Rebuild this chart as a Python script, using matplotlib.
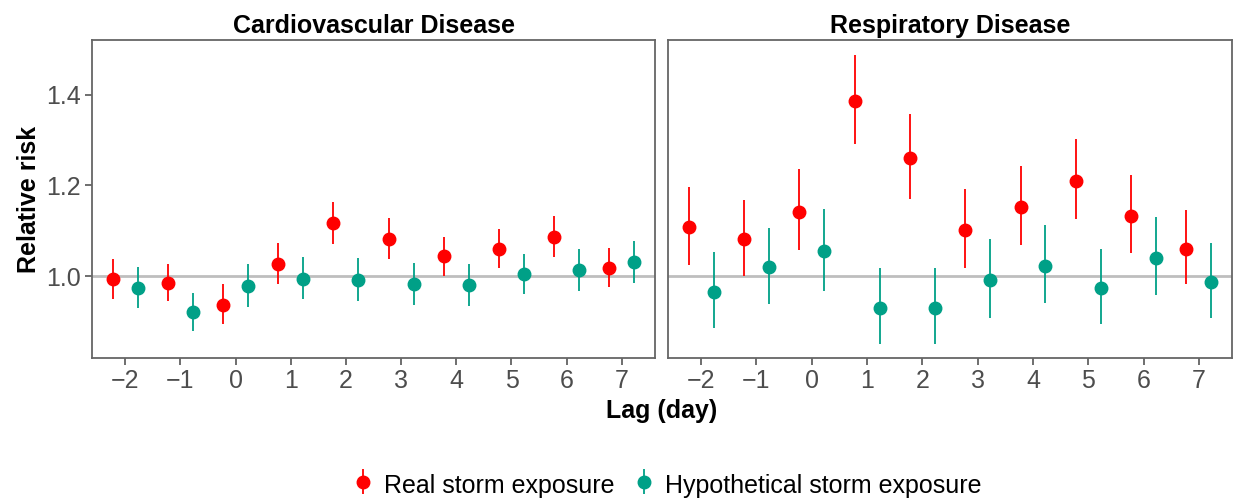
import numpy as np
import matplotlib
matplotlib.use("Agg")
import matplotlib.pyplot as plt

plt.rcParams['font.family'] = ['Liberation Sans', 'DejaVu Sans']

lags = [-2, -1, 0, 1, 2, 3, 4, 5, 6, 7]

# Cardiovascular disease
cvd_real = [0.993, 0.985, 0.937, 1.027, 1.117, 1.081, 1.044, 1.061, 1.087, 1.018]
cvd_real_lo = [0.950, 0.945, 0.894, 0.983, 1.070, 1.037, 1.001, 1.019, 1.043, 0.976]
cvd_real_hi = [1.037, 1.027, 0.982, 1.073, 1.164, 1.128, 1.087, 1.105, 1.133, 1.062]
cvd_hyp = [0.975, 0.921, 0.979, 0.995, 0.992, 0.982, 0.980, 1.004, 1.014, 1.032]
cvd_hyp_lo = [0.930, 0.879, 0.932, 0.949, 0.945, 0.937, 0.935, 0.961, 0.967, 0.985]
cvd_hyp_hi = [1.021, 0.963, 1.027, 1.043, 1.040, 1.029, 1.026, 1.050, 1.059, 1.078]

# Respiratory disease
resp_real = [1.108, 1.081, 1.142, 1.386, 1.260, 1.102, 1.152, 1.210, 1.133, 1.061]
resp_real_lo = [1.024, 1.001, 1.057, 1.291, 1.169, 1.018, 1.068, 1.126, 1.051, 0.982]
resp_real_hi = [1.197, 1.168, 1.236, 1.488, 1.357, 1.192, 1.242, 1.301, 1.222, 1.145]
resp_hyp = [0.966, 1.020, 1.055, 0.931, 0.931, 0.991, 1.023, 0.974, 1.040, 0.988]
resp_hyp_lo = [0.885, 0.939, 0.968, 0.850, 0.850, 0.908, 0.941, 0.894, 0.958, 0.908]
resp_hyp_hi = [1.054, 1.106, 1.149, 1.018, 1.019, 1.081, 1.113, 1.059, 1.131, 1.074]

titles = ["Cardiovascular Disease", "Respiratory Disease"]
red = "#FF0000"
teal = "#00A087"
dodge = 0.225

fig = plt.figure(figsize=(12.33, 5.03), dpi=100)
W, H = 1233, 503
ax1 = fig.add_axes([92 / W, 1 - 358 / H, (655 - 92) / W, (358 - 40) / H])
ax2 = fig.add_axes([668 / W, 1 - 358 / H, (1232 - 668) / W, (358 - 40) / H], sharey=ax1)

panels = [
    (ax1, cvd_real, cvd_real_lo, cvd_real_hi, cvd_hyp, cvd_hyp_lo, cvd_hyp_hi),
    (ax2, resp_real, resp_real_lo, resp_real_hi, resp_hyp, resp_hyp_lo, resp_hyp_hi),
]

x = np.array(lags, dtype=float)
handles = None
for i, (ax, r, rlo, rhi, h, hlo, hhi) in enumerate(panels):
    ax.axhline(1.0, color="#BEBEBE", lw=2, zorder=1)
    r, rlo, rhi = np.array(r), np.array(rlo), np.array(rhi)
    h, hlo, hhi = np.array(h), np.array(hlo), np.array(hhi)
    e1 = ax.errorbar(x - dodge, r, yerr=[r - rlo, rhi - r], fmt='o', color=red,
                     ms=9, elinewidth=1.3, capsize=0, zorder=3,
                     label="Real storm exposure")
    e2 = ax.errorbar(x + dodge, h, yerr=[h - hlo, hhi - h], fmt='o', color=teal,
                     ms=9, elinewidth=1.3, capsize=0, zorder=3,
                     label="Hypothetical storm exposure")
    handles = [e1, e2]
    ax.set_xlim(-2.6, 7.6)
    ax.set_ylim(0.82, 1.52)
    ax.set_xticks(lags)
    ax.set_xticklabels(["\u22122", "\u22121"] + [str(v) for v in lags[2:]])
    ax.set_yticks([1.0, 1.2, 1.4])
    ax.set_yticklabels(["1.0", "1.2", "1.4"])
    ax.tick_params(axis='both', direction='out', length=5, width=1.2,
                   color="#555555", labelcolor="#4D4D4D", labelsize=18, pad=3)
    for s in ax.spines.values():
        s.set_color("#666666")
        s.set_linewidth(1.3)
    ax.set_title(titles[i], fontsize=18, fontweight='bold', pad=5)

ax2.tick_params(axis='y', left=False, labelleft=False)
ax1.set_ylabel("Relative risk", fontsize=18, fontweight='bold', labelpad=4)

fig.text(662 / W, 1 - 411 / H, "Lag (day)", ha='center', va='center',
         fontsize=18, fontweight='bold')

fig.legend(handles, ["Real storm exposure", "Hypothetical storm exposure"],
           loc='center', bbox_to_anchor=(668 / W, 1 - 485 / H), ncol=2,
           frameon=False, fontsize=18, handlelength=0.7, handletextpad=0.5,
           handleheight=1.4, columnspacing=0.8)

fig.savefig("out.png", dpi=100)
